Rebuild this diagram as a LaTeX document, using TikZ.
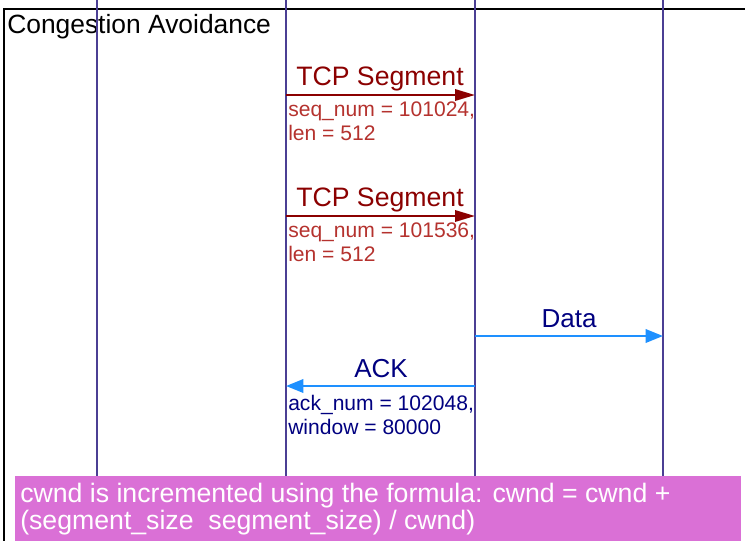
\documentclass[tikz,border=0pt]{standalone}
\usepackage{fontspec}
\setmainfont{Liberation Sans}
\usetikzlibrary{arrows.meta}

\definecolor{lifeline}{HTML}{4B3F94}
\definecolor{segred}{HTML}{8B0000}
\definecolor{seqred}{HTML}{B5322E}
\definecolor{msgblue}{HTML}{1E90FF}
\definecolor{navytext}{HTML}{000080}
\definecolor{notepink}{HTML}{DA70D6}

\begin{document}
\begin{tikzpicture}[x=0.75pt,y=-0.75pt,
  lifeline/.style={draw=lifeline, line width=1.5pt},
  framebox/.style={draw=black, line width=2pt},
  segarrow/.style={draw=segred, line width=1.8pt, -{Triangle[length=15pt,width=8.5pt]}},
  msgarrow/.style={draw=msgblue, line width=1.8pt, -{Triangle[length=13pt,width=10pt]}},
  titletext/.style={anchor=base west, inner sep=0pt, font=\fontsize{19.8}{22}\selectfont},
  seglabel/.style={anchor=base, inner sep=0pt, text=segred, font=\fontsize{20}{24}\selectfont},
  msglabel/.style={anchor=base, inner sep=0pt, text=navytext, font=\fontsize{19.5}{24}\selectfont},
  % for the two-line blocks the base anchor sits on the last line
  seqinfo/.style={anchor=base west, inner sep=0pt, align=left, text=seqred, font=\fontsize{15.8}{17.3}\selectfont},
  ackinfo/.style={anchor=base west, inner sep=0pt, align=left, text=navytext, font=\fontsize{15.8}{17.3}\selectfont},
  notebox/.style={fill=notepink, draw=none},
  notetext/.style={anchor=base west, inner sep=0pt, align=left, text=white, font=\fontsize{20}{18.5}\selectfont}
]
\useasboundingbox (0,0) rectangle (745,540);
\fill[white] (0,0) rectangle (745,540);

% frame of the fragment and its title
\draw[framebox] (4,545) -- (4,9) -- (750,9);
\node[titletext] (title) at (7,33) {Congestion Avoidance};

% lifelines
\foreach \name/\x in {la/97, lb/286, lc/475, ld/663} {
  \coordinate (\name-top) at (\x,0);
  \coordinate (\name-bot) at (\x,540);
  \draw[lifeline] (\name-top) -- (\name-bot);
}

% message end points on the lifelines
\coordinate (s1-from) at (286,95);  \coordinate (s1-to) at (475,95);
\coordinate (s2-from) at (286,216); \coordinate (s2-to) at (475,216);
\coordinate (d-from) at (475,336);  \coordinate (d-to) at (663,336);
\coordinate (a-from) at (475,386);  \coordinate (a-to) at (286,386);

% first segment
\draw[segarrow] (s1-from) -- (s1-to);
\node[seglabel] (s1-label) at (380,85) {TCP Segment};
\node[seqinfo] (s1-info) at (288,140) {seq\_num = 101024,\\len = 512};

% second segment
\draw[segarrow] (s2-from) -- (s2-to);
\node[seglabel] (s2-label) at (380,206) {TCP Segment};
\node[seqinfo] (s2-info) at (288,261) {seq\_num = 101536,\\len = 512};

% data towards the receiver
\draw[msgarrow] (d-from) -- (d-to);
\node[msglabel] (d-label) at (569,327) {Data};

% acknowledgement
\draw[msgarrow] (a-from) -- (a-to);
\node[msglabel] (a-label) at (381,377) {ACK};
\node[ackinfo] (a-info) at (288,434) {ack\_num = 102048,\\window = 80000};

% note about the window update
\fill[notebox] (15,476) rectangle (741,545);
\node[notetext] (note) at (20,529) {cwnd is incremented using the formula: cwnd = cwnd +\\(segment\_size\ \ segment\_size) / cwnd)};
\end{tikzpicture}
\end{document}
